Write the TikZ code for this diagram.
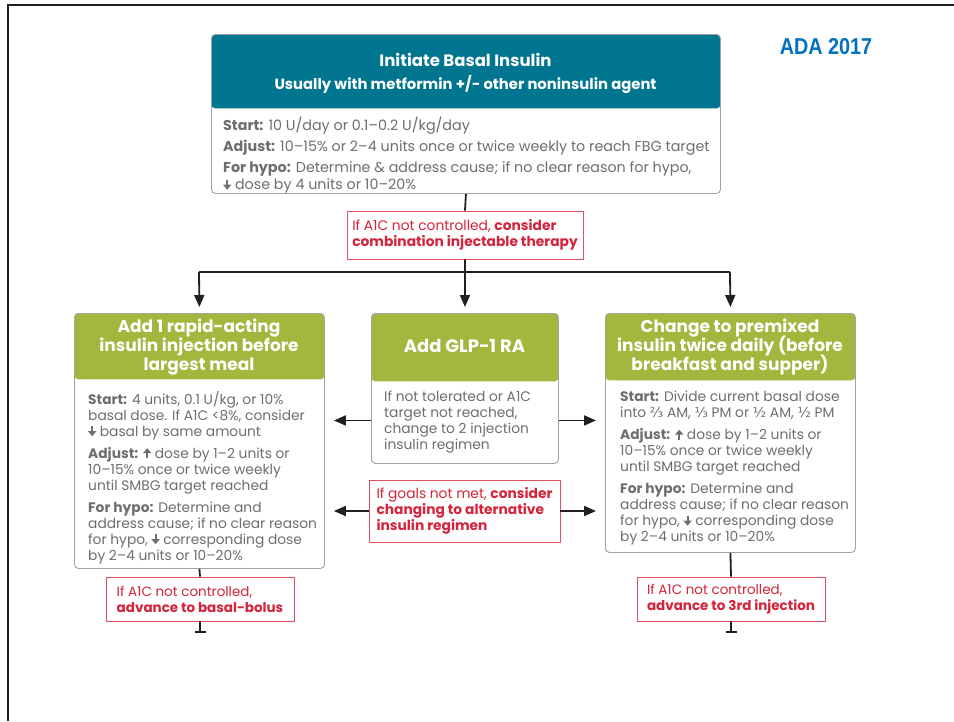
\documentclass[tikz,border=0pt]{standalone}
\usepackage{fontspec}
\setmainfont{Poppins}
\newfontfamily\symfont{DejaVu Sans}
\newfontfamily\adafont{Liberation Sans}
\usetikzlibrary{arrows.meta}

\definecolor{hdrteal}{RGB}{0,117,143}
\definecolor{hdrgreen}{RGB}{161,183,62}
\definecolor{bodygray}{RGB}{109,110,113}
\definecolor{edgegray}{RGB}{160,162,165}
\definecolor{alertred}{RGB}{212,35,58}
\definecolor{adablue}{RGB}{0,112,192}
\definecolor{inkblack}{RGB}{35,31,32}

% small solid up/down arrows used inside the dosing text
\newcommand{\arrdown}{\tikz[baseline=0pt]\draw[line width=2pt, bodygray,
  -{Triangle[length=5pt,width=8pt]}] (0pt,10pt) -- (0pt,0pt);}
\newcommand{\arrup}{\tikz[baseline=0pt]\draw[line width=2pt, bodygray,
  -{Triangle[length=5pt,width=8pt]}] (0pt,0pt) -- (0pt,10pt);}
\newcommand{\frc}[1]{{\symfont #1}}
% fixed line pitch, whatever the glyph heights
\newcommand{\tightlines}{\lineskiplimit=-20pt\lineskip=0pt}

\tikzset{
  card/.style={draw=edgegray, line width=0.9pt, rounded corners=4pt, fill=white,
    anchor=north west, inner sep=0pt},
  hdr/.style 2 args={path picture={\fill[#1] (path picture bounding box.north west)
    rectangle ([yshift=-#2]path picture bounding box.north east);}},
  hdrtext/.style={text=white, font=\fontsize{17}{19}\selectfont\bfseries\tightlines,
    align=center, inner sep=0pt},
  bodytext/.style={text=bodygray, font=\fontsize{13.8}{16}\selectfont\tightlines, align=left,
    anchor=north west, inner sep=0pt},
  alertbox/.style={draw=alertred!80, line width=0.9pt, fill=white, text=alertred,
    font=\fontsize{13.8}{16}\selectfont\tightlines, align=left, inner sep=0pt},
  link/.style={draw=inkblack, line width=1.8pt},
  arr/.style={link, -{Triangle[length=12pt,width=10pt]}},
  stub/.style={link, -{Rectangle[length=2.5pt,width=11pt]}},
}

\begin{document}
\begin{tikzpicture}[x=1pt,y=-1pt]
\useasboundingbox (0,0) rectangle (954,721);

% page frame
\draw[line width=2.5pt, inkblack] (8,721) -- (8,5) -- (954,5);

% badge
\node[text=adablue, font=\adafont\fontsize{23}{26}\selectfont\bfseries, inner sep=0pt]
  (badge) at (826,47) {\scalebox{0.86}[1]{ADA 2017}};

% basal insulin card
\node[card, minimum width=509pt, minimum height=159pt, hdr={hdrteal}{74pt}] (basal) at (211,34) {};
\node[hdrtext, font=\fontsize{16.5}{19}\selectfont\bfseries] (basalA) at (465.5,60) {Initiate Basal Insulin};
\node[hdrtext, font=\fontsize{14.8}{17}\selectfont\bfseries] (basalB) at (465.5,85)
  {Usually with metformin +/- other noninsulin agent};
\node[bodytext, font=\fontsize{14.3}{17}\selectfont\tightlines] (basalC) at (223,117)
  {\textbf{Start:} 10 U/day or 0.1–0.2 U/kg/day\\[4pt]
   \textbf{Adjust:} 10–15\% or 2–4 units once or twice weekly to reach FBG target\\[4pt]
   \textbf{For hypo:} Determine \& address cause; if no clear reason for hypo,\\
   \arrdown\ dose by 4 units or 10–20\%};

% combination note
\node[alertbox, minimum width=236pt, minimum height=48pt] (combo) at (465,235)
  {If A1C not controlled, \textbf{consider}\\ \textbf{combination injectable therapy}};

% three options
\node[card, minimum width=250pt, minimum height=255pt, hdr={hdrgreen}{66pt}] (rapid) at (74,313) {};
\node[hdrtext] (rapidA) at (199,347)
  {Add 1 rapid-acting\\ insulin injection before\\ largest meal};
\node[bodytext] (rapidB) at (88,391)
  {\textbf{Start:} 4 units, 0.1 U/kg, or 10\%\\
   basal dose. If A1C <8\%, consider\\
   \arrdown\ basal by same amount\\[6pt]
   \textbf{Adjust:} \arrup\ dose by 1–2 units or\\
   10–15\% once or twice weekly\\
   until SMBG target reached\\[6pt]
   \textbf{For hypo:} Determine and\\
   address cause; if no clear reason\\
   for hypo, \arrdown\ corresponding dose\\
   by 2–4 units or 10–20\%};

\node[card, minimum width=187pt, minimum height=150pt, hdr={hdrgreen}{68pt}] (glp) at (371,313) {};
\node[hdrtext, font=\fontsize{18}{19}\selectfont\bfseries] (glpA) at (464.5,346) {Add GLP-1 RA};
\node[bodytext] (glpB) at (384,391)
  {If not tolerated or A1C\\ target not reached,\\ change to 2 injection\\ insulin regimen};

\node[card, minimum width=250pt, minimum height=239pt, hdr={hdrgreen}{67pt}] (premix) at (605,313) {};
\node[hdrtext] (premixA) at (730,347)
  {Change to premixed\\ insulin twice daily (before\\ breakfast and supper)};
\node[bodytext] (premixB) at (620,391)
  {\textbf{Start:} Divide current basal dose\\
   into \frc{⅔} AM, \frc{⅓} PM or \frc{½} AM, \frc{½} PM\\[6pt]
   \textbf{Adjust:} \arrup\ dose by 1–2 units or\\
   10–15\% once or twice weekly\\
   until SMBG target reached\\[6pt]
   \textbf{For hypo:} Determine and\\
   address cause; if no clear reason\\
   for hypo, \arrdown\ corresponding dose\\
   by 2–4 units or 10–20\%};

% alternative regimen note
\node[alertbox, minimum width=191pt, minimum height=62pt] (goals) at (464.5,511)
  {If goals not met, \textbf{consider}\\ \textbf{changing to alternative}\\ \textbf{insulin regimen}};

% escalation notes
\node[alertbox, font=\fontsize{13.5}{16}\selectfont\tightlines, minimum width=188pt, minimum height=44pt] (bolus) at (200,599)
  {If A1C not controlled,\\ \textbf{advance to basal-bolus}};
\node[alertbox, font=\fontsize{13.5}{16}\selectfont\tightlines, minimum width=188pt, minimum height=44pt] (third) at (731,599)
  {If A1C not controlled,\\ \textbf{advance to 3rd injection}};

% branch points
\coordinate (jc) at (465,272);
\coordinate (jl) at (199,272);
\coordinate (jr) at (730,272);
\coordinate (endL) at (200,633);
\coordinate (endR) at (731,633);

% connectors
\draw[link] (basal.south) -- (combo.north);
\draw[link] (combo.south) -- (jc);
\draw[link] (jl) -- (jr);
\draw[arr, shorten >=6pt] (jl) -- (rapid.north);
\draw[arr, shorten >=6pt] (jc) -- (glp.north);
\draw[arr, shorten >=6pt] (jr) -- (premix.north);

\draw[arr, shorten >=9pt] ([yshift=-32pt]glp.west) -- ([yshift=-32pt]glp.west -| rapid.east);
\draw[arr, shorten >=9pt] ([yshift=-32pt]glp.east) -- ([yshift=-32pt]glp.east -| premix.west);
\draw[arr, shorten >=9pt] (goals.west) -- (goals.west -| rapid.east);
\draw[arr, shorten >=9pt] (goals.east) -- (goals.east -| premix.west);

\draw[link] (rapid.south) -- (bolus.north);
\draw[stub] (bolus.south) -- (endL);
\draw[link] (premix.south) -- (third.north);
\draw[stub] (third.south) -- (endR);
\end{tikzpicture}
\end{document}
